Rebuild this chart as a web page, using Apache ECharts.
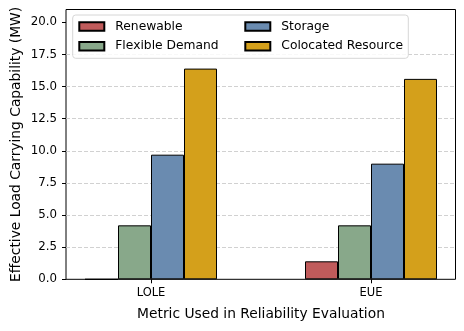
<!DOCTYPE html>
<html>
<head>
<meta charset="utf-8">
<script src="https://cdn.jsdelivr.net/npm/echarts@6/dist/echarts.min.js"></script>
<style>
html,body{margin:0;padding:0;background:#fff;}
#chart{width:464px;height:331px;}
</style>
</head>
<body>
<div id="chart"></div>
<script>
const categories = ['LOLE', 'EUE'];
const renewable = [0, 1.4];
const flexibleDemand = [4.2, 4.2];
const storage = [9.7, 9.0];
const colocatedResource = [16.4, 15.6];
const yTicks = [0, 2.5, 5, 7.5, 10, 12.5, 15, 17.5, 20];

const FONT = 'DejaVu Sans';
const colors = {
  'Renewable': '#c05b5b',
  'Flexible Demand': '#88a88a',
  'Storage': '#6a8bb0',
  'Colocated Resource': '#d4a01b'
};

function mkSeries(name, data) {
  return {
    name: name, type: 'bar', data: data,
    xAxisIndex: 1, yAxisIndex: 1,
    barWidth: 33, barGap: '0%',
    itemStyle: { color: colors[name], borderColor: '#000', borderWidth: 1 },
    emphasis: { disabled: true },
    animation: false
  };
}

const chart = echarts.init(document.getElementById('chart'), null, { renderer: 'canvas' });
const gridTop = 9.5, gridBottom = 51.7;
chart.setOption({
  animation: false,
  textStyle: { fontFamily: FONT },
  grid: [
    { left: 66, right: 8.5, top: gridTop, bottom: gridBottom, show: true, borderColor: '#000', borderWidth: 1, backgroundColor: 'transparent' },
    { left: 151, right: 93, top: gridTop, bottom: gridBottom }
  ],
  xAxis: [
    { gridIndex: 0, type: 'category', data: categories, show: false },
    {
      gridIndex: 1, type: 'category', data: categories, boundaryGap: false,
      axisLine: { show: false },
      axisTick: { show: true, length: 4, lineStyle: { color: '#000' } },
      axisLabel: { fontFamily: FONT, fontSize: 11.5, color: '#000', margin: 8 },
      splitLine: { show: false },
      name: 'Metric Used in Reliability Evaluation',
      nameLocation: 'middle', nameGap: 28, nameMoveOverlap: false,
      nameTextStyle: { fontFamily: FONT, fontSize: 13.8, color: '#000' }
    }
  ],
  yAxis: [
    {
      gridIndex: 0, type: 'value', min: 0, max: 21, interval: 2.5,
      axisLine: { show: false },
      axisTick: { show: true, length: 4, lineStyle: { color: '#000' }, customValues: yTicks },
      axisLabel: {
        fontFamily: FONT, fontSize: 11.8, color: '#000', margin: 9,
        customValues: yTicks,
        formatter: v => v.toFixed(1)
      },
      splitLine: { show: true, showMinLine: false, showMaxLine: false, lineStyle: { color: '#cccccc', type: [4, 2], width: 0.9 } },
      name: 'Effective Load Carrying Capability (MW)',
      nameLocation: 'middle', nameGap: 43, nameMoveOverlap: false,
      nameTextStyle: { fontFamily: FONT, fontSize: 13.8, color: '#000' }
    },
    { gridIndex: 1, type: 'value', min: 0, max: 21, show: false, splitLine: { show: false } }
  ],
  legend: [
    {
      data: ['Renewable', 'Flexible Demand'],
      orient: 'vertical', left: 78.3, top: 19.5, padding: 0,
      itemWidth: 25, itemHeight: 8.5, itemGap: 5.7, icon: 'rect', z: 10,
      textStyle: { fontFamily: FONT, fontSize: 12.3, color: '#000', lineHeight: 14, padding: [0, 0, 0, 6] },
      selectedMode: false
    },
    {
      data: ['Storage', 'Colocated Resource'],
      orient: 'vertical', left: 244.3, top: 19.5, padding: 0,
      itemWidth: 25, itemHeight: 8.5, itemGap: 5.7, icon: 'rect', z: 10,
      textStyle: { fontFamily: FONT, fontSize: 12.3, color: '#000', lineHeight: 14, padding: [0, 0, 0, 6] },
      selectedMode: false
    }
  ],
  graphic: [
    {
      type: 'rect', z: 5, silent: true,
      shape: { x: 72.7, y: 15, width: 335.6, height: 43.3, r: 3 },
      style: { fill: 'rgba(255,255,255,0.85)', stroke: '#d6d6d6', lineWidth: 1 }
    }
  ],
  series: [
    mkSeries('Renewable', renewable),
    mkSeries('Flexible Demand', flexibleDemand),
    mkSeries('Storage', storage),
    mkSeries('Colocated Resource', colocatedResource)
  ]
});
</script>
</body>
</html>
